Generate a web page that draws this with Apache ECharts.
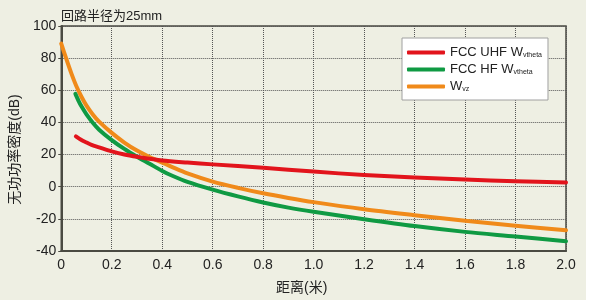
<!DOCTYPE html>
<html><head><meta charset="utf-8">
<script src="https://cdn.jsdelivr.net/npm/echarts@6/dist/echarts.min.js"></script>
<style>
html,body{margin:0;padding:0;background:#fff;}
#c{width:591px;height:300px;background:linear-gradient(to right,#eeefe3 586px,#ffffff 586px);}
</style></head>
<body><div id="c"></div>
<script>
const titleText = '回路半径为25mm';
const xName = '距离(米)';
const yName = '无功功率密度(dB)';
const seriesNames = ['FCC UHF Wvtheta', 'FCC HF Wvtheta', 'Wvz'];
const legendMain = ['FCC UHF W', 'FCC HF W', 'W'];
const legendSub = ['vtheta', 'vtheta', 'vz'];

const uhfX = [0.058,0.08,0.1,0.12,0.15,0.2,0.25,0.3,0.4,0.5,0.6,0.8,1.0,1.2,1.4,1.6,1.8,2.0];
const uhfY = [31.3,29,27.5,26,24.5,22,20,18.6,16.3,15,13.9,11.8,9.4,7.3,5.8,4.5,3.4,2.6];

const hfX = [0.056,0.07,0.08,0.1,0.125,0.15,0.2,0.25,0.3,0.35,0.4,0.44,0.5,0.6,0.7,0.8,0.9,1.0,1.2,1.4,1.6,1.8,2.0];
const hfY = [57.8,53,50,45,39.8,35.5,29,23.5,18.7,14.3,9.8,6.8,3,-1.8,-6,-9.8,-13,-15.6,-20.2,-24.5,-28.1,-31,-34];

const vzX = [0,0.02,0.04,0.06,0.08,0.1,0.125,0.15,0.2,0.25,0.3,0.35,0.4,0.44,0.5,0.6,0.7,0.8,0.9,1.0,1.2,1.4,1.6,1.8,2.0];
const vzY = [89,79.5,70.5,62.5,56,50.5,45,40.5,33.5,27.5,22.5,18.5,15,12.2,8.3,3.2,-0.7,-4.1,-7,-9.6,-14,-17.7,-21.2,-24.3,-27.1];

const colors = ['#e2141c', '#0f9a43', '#f08a1a'];
const FONT = '"Liberation Sans", Arial, "Noto Sans CJK SC", sans-serif';

function pairs(xs, ys){ return xs.map((x,i)=>[x, ys[i]]); }

const chart = echarts.init(document.getElementById('c'), null, {renderer:'canvas'});
const lineSeries = (idx, xs, ys, z) => ({
  name: seriesNames[idx], type:'line', data: pairs(xs, ys),
  smooth: 0.3, showSymbol:false, symbol:'none', z: z,
  lineStyle:{color: colors[idx], width: 4, cap:'round', join:'round'}, itemStyle:{color: colors[idx]}
});
chart.setOption({
  animation:false,
  textStyle:{fontFamily: FONT},
  title:{text: titleText, left: 56, top: 5, textStyle:{fontSize:13, fontWeight:'normal', color:'#222', fontFamily: FONT}},
  grid:{left:58, right:25, top:26, bottom:45, show:true, borderColor:'#4a4a42', borderWidth:1.5, backgroundColor:'transparent'},
  legend:{
    orient:'vertical', left:402, top:38,
    data: seriesNames.slice(),
    backgroundColor:'#ffffff', borderColor:'#a0a0a0', borderWidth:1,
    padding:[8,6,7,5], itemGap:4, itemWidth:38, itemHeight:4, icon:'roundRect',
    formatter: function(name){ const i = seriesNames.indexOf(name); return '{a|' + legendMain[i] + '}{s|' + legendSub[i] + '}'; },
    textStyle:{fontFamily: FONT, color:'#222', rich:{a:{fontSize:13, color:'#222', fontFamily: FONT, lineHeight:14}, s:{fontSize:7, color:'#222', fontFamily: FONT, padding:[6,0,0,0], lineHeight:14}}}
  },
  xAxis:{
    type:'value', min:0, max:2, interval:0.2,
    name: xName, nameLocation:'middle', nameGap:30,
    nameTextStyle:{fontSize:14, color:'#222', fontFamily: FONT, padding:[0,24,0,0]},
    axisLine:{show:true, onZero:false, lineStyle:{color:'#4a4a42', width:2}},
    axisTick:{show:false},
    axisLabel:{fontSize:14, color:'#222', margin:7, fontFamily: FONT, formatter: v => v===0 ? '0' : v.toFixed(1)},
    splitLine:{show:true, lineStyle:{color:'#555', type:'dotted', width:1}}
  },
  yAxis:{
    type:'value', min:-40, max:100, interval:20,
    name: yName, nameLocation:'middle', nameGap:33, nameRotate:90,
    nameTextStyle:{fontSize:14, color:'#222', fontFamily: FONT, padding:[0,22,0,0]},
    axisLine:{show:true, onZero:false, lineStyle:{color:'#4a4a42', width:2}},
    axisTick:{show:true, length:3, lineStyle:{color:'#4a4a42'}},
    axisLabel:{fontSize:14, color:'#222', margin:5, fontFamily: FONT},
    splitLine:{show:true, lineStyle:{color:'#555', type:'dotted', width:1}}
  },
  series:[
    lineSeries(2, vzX, vzY, 2),
    lineSeries(1, hfX, hfY, 3),
    lineSeries(0, uhfX, uhfY, 4)
  ]
});
</script></body></html>
